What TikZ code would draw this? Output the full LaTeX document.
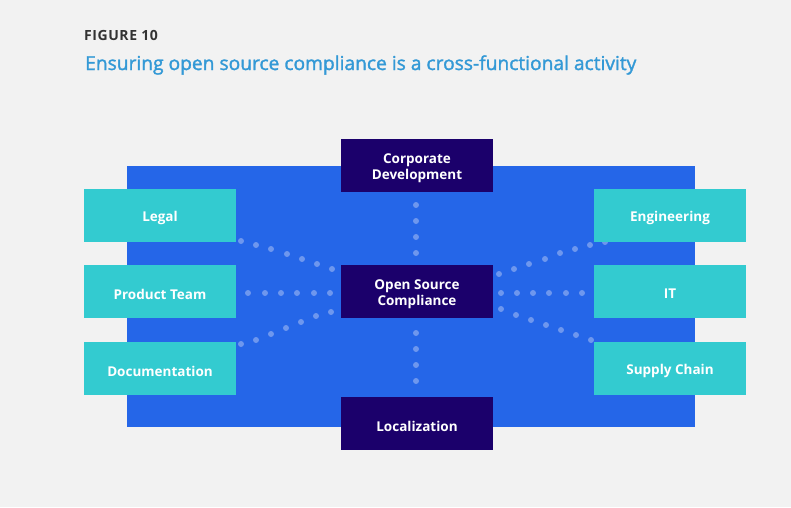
\documentclass[tikz,border=0pt]{standalone}
\usepackage{fontspec}
\setmainfont{Open Sans}
\newfontfamily\titlefont[FakeBold=1.6]{Open Sans}
\newfontfamily\figfont[LetterSpace=4]{Open Sans}
\definecolor{bg}{HTML}{F2F2F2}
\definecolor{panel}{HTML}{2566E8}
\definecolor{cyanbox}{HTML}{33CBD0}
\definecolor{navy}{HTML}{1B006B}
\definecolor{dotc}{HTML}{6E97EE}
\definecolor{titleblue}{HTML}{3399D6}
\definecolor{figgray}{HTML}{333333}
\begin{document}
\begin{tikzpicture}[x=1pt,y=-1pt,
  box/.style={minimum width=152pt,minimum height=53pt,inner sep=0pt},
  side/.style={box,fill=cyanbox},
  core/.style={box,fill=navy},
  lbl/.style={align=center,inner sep=0pt,yshift=-2.5pt,
    font=\fontsize{13.5}{16}\selectfont\bfseries,text=white},
  dot/.style={circle,fill=dotc,minimum size=6pt,inner sep=0pt}]
\fill[bg] (0,0) rectangle (791,507);
\useasboundingbox (0,0) rectangle (791,507);
\node[anchor=base west,font=\figfont\fontsize{14}{16}\selectfont\bfseries,text=figgray,inner sep=0pt] (fig) at (84,40) {FIGURE 10};
\node[anchor=base west,font=\titlefont\fontsize{19.2}{22}\selectfont,text=titleblue,inner sep=0pt] (title) at (85,70) {Ensuring open source compliance is a cross-functional activity};
\fill[panel] (127,166) rectangle (695,427);
% dots
\foreach \x/\y in {241/241,256/245,271/249,287/254,302/259,317/264,332/269,
  248/293,265/293,281/293,297/293,314/293,330/293,
  241/344,256/340,271/334,286/328,301/322,316/316,331/312,
  499/274,514/269,529/264,545/259,560/253,575/249,590/245,605/242,
  501/293,517/293,533/293,549/293,566/293,582/293,
  501/309,516/315,531/320,546/325,561/330,576/335,591/340,
  416/205,416/221,416/237,416/253,
  416/333,416/349,416/365,416/381}
  \node[dot] at (\x,\y) {};
\node[side,label={[lbl]center:Legal}] (legal) at (160,215.5) {};
\node[side,label={[lbl]center:Product Team}] (prod) at (160,291.5) {};
\node[side,label={[lbl]center:Documentation}] (doc) at (160,368.5) {};
\node[side,label={[lbl]center:Engineering}] (eng) at (670,215.5) {};
\node[side,label={[lbl]center:IT}] (it) at (670,291.5) {};
\node[side,label={[lbl]center:Supply Chain}] (supply) at (670,368.5) {};
\node[core,label={[lbl]center:Corporate\\Development}] (corp) at (417,165.5) {};
\node[core,label={[lbl]center:Open Source\\Compliance}] (osc) at (417,291.5) {};
\node[core,label={[lbl]center:Localization}] (loc) at (417,423.5) {};
\end{tikzpicture}
\end{document}
